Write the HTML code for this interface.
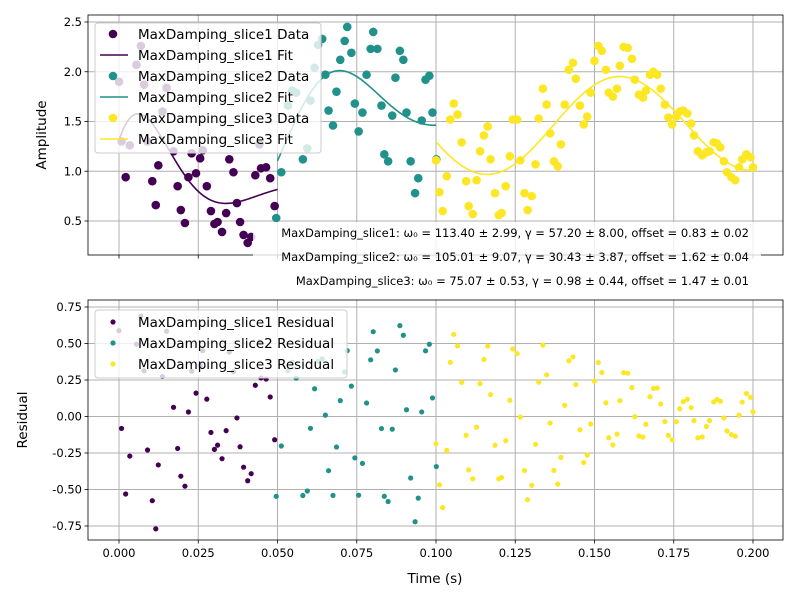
<!DOCTYPE html>
<html><head><meta charset="utf-8"><style>
body{margin:0;background:#fff;}
svg{display:block;font-family:"DejaVu Sans","Liberation Sans",sans-serif;}
</style></head><body>
<svg id="chart" width="800" height="600" xmlns="http://www.w3.org/2000/svg"></svg>
<script>
const slice1T=[0.0000,0.0008,0.0021,0.0034,0.0055,0.0069,0.0079,0.0090,0.0105,0.0116,0.0124,0.0137,0.0150,0.0172,0.0185,0.0195,0.0208,0.0219,0.0229,0.0243,0.0256,0.0264,0.0277,0.0290,0.0301,0.0311,0.0325,0.0338,0.0348,0.0361,0.0372,0.0382,0.0393,0.0406,0.0417,0.0430,0.0443,0.0448,0.0464,0.0477,0.0491];
const slice1V=[1.90,1.30,0.94,1.26,2.07,2.26,1.87,1.30,0.90,0.66,1.06,1.60,1.84,1.20,0.85,0.61,0.48,0.94,1.18,0.98,1.13,1.21,0.85,0.60,0.47,0.49,0.39,0.58,1.12,0.99,0.68,0.49,0.36,0.28,0.34,0.96,1.27,1.03,1.04,0.93,0.65];
const slice2T=[0.0496,0.0512,0.0533,0.0546,0.0559,0.0580,0.0594,0.0604,0.0617,0.0628,0.0641,0.0651,0.0661,0.0675,0.0686,0.0698,0.0712,0.0720,0.0733,0.0744,0.0756,0.0768,0.0781,0.0794,0.0802,0.0815,0.0828,0.0837,0.0849,0.0862,0.0872,0.0886,0.0897,0.0907,0.0920,0.0934,0.0944,0.0955,0.0967,0.0979,0.0989,0.1001];
const slice2V=[0.53,0.99,1.66,1.81,1.79,1.12,1.23,1.71,2.04,2.27,2.33,1.97,1.61,1.46,1.80,2.12,2.31,2.45,2.19,1.68,1.40,1.59,1.97,2.23,2.40,2.23,1.66,1.17,1.10,1.56,1.94,2.21,2.12,1.59,1.10,0.78,0.93,1.51,1.92,1.96,1.59,1.12];
const slice3T=[0.1000,0.1011,0.1021,0.1034,0.1045,0.1056,0.1068,0.1081,0.1095,0.1103,0.1116,0.1128,0.1139,0.1151,0.1163,0.1172,0.1186,0.1198,0.1207,0.1220,0.1233,0.1242,0.1256,0.1266,0.1279,0.1289,0.1302,0.1314,0.1324,0.1337,0.1349,0.1360,0.1372,0.1384,0.1394,0.1406,0.1419,0.1432,0.1441,0.1454,0.1466,0.1477,0.1488,0.1500,0.1512,0.1523,0.1536,0.1545,0.1558,0.1571,0.1580,0.1592,0.1605,0.1618,0.1627,0.1640,0.1653,0.1662,0.1675,0.1686,0.1698,0.1709,0.1722,0.1733,0.1745,0.1758,0.1769,0.1780,0.1793,0.1805,0.1814,0.1826,0.1840,0.1853,0.1863,0.1876,0.1886,0.1897,0.1908,0.1918,0.1932,0.1944,0.1956,0.1966,0.1979,0.1992,0.2000];
const slice3V=[1.11,0.79,0.60,0.95,1.52,1.68,1.57,1.29,0.90,0.65,0.57,0.91,1.20,1.36,1.45,1.12,0.78,0.56,0.58,0.85,1.15,1.52,1.52,1.11,0.78,0.61,0.75,1.07,1.53,1.83,1.67,1.38,1.10,1.05,1.27,1.67,2.02,2.09,1.93,1.66,1.47,1.55,1.79,2.11,2.26,2.21,2.02,1.79,1.75,1.83,2.06,2.25,2.24,2.13,1.92,1.77,1.74,1.81,1.97,2.00,1.97,1.83,1.67,1.54,1.47,1.55,1.60,1.61,1.58,1.48,1.36,1.20,1.16,1.19,1.20,1.29,1.28,1.24,1.10,0.99,0.94,0.91,1.04,1.12,1.17,1.14,1.04];
// fit model params per slice: offset + A*exp(-gamma*tau)*cos(omega*tau+phi), tau=t-start
const fitStart=[0.0,0.05,0.1];
const fitEnd=[0.05,0.1,0.2];
const fitOmega=[113.40,105.01,75.07];
const fitGamma=[57.20,30.43,0.98];
const fitOffset=[0.83,1.62,1.47];
const fitAmp=[1.18,0.74,0.51];
const fitPhase=[-1.15,-2.34,1.918];
const sliceNames=["MaxDamping_slice1","MaxDamping_slice2","MaxDamping_slice3"];
const colors=["#440154","#21918c","#fde725"];
const xTicks=[0,0.025,0.05,0.075,0.1,0.125,0.15,0.175,0.2];
const xTickLabels=["0.000","0.025","0.050","0.075","0.100","0.125","0.150","0.175","0.200"];
const topYTicks=[0.5,1.0,1.5,2.0,2.5];
const botYTicks=[-0.75,-0.5,-0.25,0,0.25,0.5,0.75];
const annotations=["MaxDamping_slice1: ω₀ = 113.40 ± 2.99, γ = 57.20 ± 8.00, offset = 0.83 ± 0.02","MaxDamping_slice2: ω₀ = 105.01 ± 9.07, γ = 30.43 ± 3.87, offset = 1.62 ± 0.04","MaxDamping_slice3: ω₀ = 75.07 ± 0.53, γ = 0.98 ± 0.44, offset = 1.47 ± 0.01"];

const NS="http://www.w3.org/2000/svg";
const svg=document.getElementById('chart');
function mk(tag,attrs,parent){const e=document.createElementNS(NS,tag);for(const k in attrs)e.setAttribute(k,attrs[k]);(parent||svg).appendChild(e);return e;}
const L=88,R=783;
const xs=t=>119+t*3170;
const topT=15,topB=255,botT=300,botB=540;
const ysTop=v=>221-(v-0.5)*99.5;
const ysBot=v=>307+(0.75-v)*146;
function fitVal(i,t){const tau=t-fitStart[i];return fitOffset[i]+fitAmp[i]*Math.exp(-fitGamma[i]*tau)*Math.cos(fitOmega[i]*tau+fitPhase[i]);}
const Ts=[slice1T,slice2T,slice3T],Vs=[slice1V,slice2V,slice3V];

function axes(top,bot,yTicks,ys,fmt,showX,name){
  const g=mk('g',{});
  
  
  xTicks.forEach((t,k)=>{
    const gl=mk('line',{x1:xs(t),x2:xs(t),y1:top,y2:bot,stroke:'#b0b0b0','stroke-width':1},g);
    
    const tk=mk('line',{x1:xs(t),x2:xs(t),y1:bot,y2:bot+3.5,stroke:'#000','stroke-width':0.8},g);
    
    if(showX){const tx=mk('text',{x:xs(t),y:bot+17,'font-size':'11.5','text-anchor':'middle'},g);tx.textContent=xTickLabels[k];
      }
  });
  yTicks.forEach(v=>{
    const gl=mk('line',{x1:L,x2:R,y1:ys(v),y2:ys(v),stroke:'#b0b0b0','stroke-width':1},g);
    
    const tk=mk('line',{x1:L-3.5,x2:L,y1:ys(v),y2:ys(v),stroke:'#000','stroke-width':0.8},g);
    
    const tx=mk('text',{x:L-6,y:ys(v)+4,'font-size':'11.5','text-anchor':'end'},g);tx.textContent=fmt(v);
    
  });
  return g;
}
axes(topT,topB,topYTicks,ysTop,v=>v.toFixed(1),false,'top-axes');
axes(botT,botB,botYTicks,ysBot,v=>v.toFixed(2),true,'bottom-axes');

// clip paths
const defs=mk('defs',{});
const c1=mk('clipPath',{id:'ctop'},defs);mk('rect',{x:L,y:topT,width:R-L,height:topB-topT},c1);
const c2=mk('clipPath',{id:'cbot'},defs);mk('rect',{x:L,y:botT,width:R-L,height:botB-botT},c2);
const gTop=mk('g',{'clip-path':'url(#ctop)'});
const gBot=mk('g',{'clip-path':'url(#cbot)'});

for(let i=0;i<3;i++){
  Ts[i].forEach((t,k)=>{
    const c=mk('circle',{cx:xs(t),cy:ysTop(Vs[i][k]),r:4.3,fill:colors[i]},gTop);
    
    
  });
  let d='';
  for(let s=0;s<=200;s++){const t=fitStart[i]+(fitEnd[i]-fitStart[i])*s/200;d+=(s?'L':'M')+xs(t).toFixed(2)+','+ysTop(fitVal(i,t)).toFixed(2);}
  const p=mk('path',{d:d,fill:'none',stroke:colors[i],'stroke-width':1.6},gTop);
  
  
  Ts[i].forEach((t,k)=>{
    const c=mk('circle',{cx:xs(t),cy:ysBot(Vs[i][k]-fitVal(i,t)),r:2.6,fill:colors[i]},gBot);
    
    
  });
}
// frames
[[topT,topB],[botT,botB]].forEach(([a,b])=>{
  const r=mk('rect',{x:L,y:a,width:R-L,height:b-a,fill:'none',stroke:'#000','stroke-width':0.8});
  
});

// top legend
const lg=mk('g',{});

mk('rect',{x:95,y:23,width:226,height:130,rx:3,fill:'#fff','fill-opacity':0.8,stroke:'#ccc'},lg);
for(let i=0;i<3;i++){
  const y1=34+i*42,y2=55+i*42;
  const m=mk('circle',{cx:113,cy:y1,r:4.3,fill:colors[i]},lg);
  
  const t1=mk('text',{x:138,y:y1+5,'font-size':'13.5'},lg);t1.textContent=sliceNames[i]+' Data';
  
  const l=mk('line',{x1:100,x2:128,y1:y2,y2:y2,stroke:colors[i],'stroke-width':1.6},lg);
  
  const t2=mk('text',{x:138,y:y2+5,'font-size':'13.5'},lg);t2.textContent=sliceNames[i]+' Fit';
  
}
// bottom legend
const lb=mk('g',{});

mk('rect',{x:95,y:310,width:252,height:68,rx:3,fill:'#fff','fill-opacity':0.8,stroke:'#ccc'},lb);
for(let i=0;i<3;i++){
  const y=322+i*21;
  const m=mk('circle',{cx:113,cy:y,r:2.6,fill:colors[i]},lb);
  
  const t=mk('text',{x:138,y:y+5,'font-size':'13.5'},lb);t.textContent=sliceNames[i]+' Residual';
  
}
// annotation box
const ab=mk('g',{});

mk('rect',{x:253,y:222,width:508,height:70,fill:'#fff','fill-opacity':0.8},ab);
annotations.forEach((s,k)=>{
  const t=mk('text',{x:749,y:237+k*24,'font-size':'11.5','text-anchor':'end'},ab);t.textContent=s;
  
});
// axis titles
const yt1=mk('text',{x:0,y:0,'font-size':'13.5','text-anchor':'middle',transform:'translate(46,135) rotate(-90)'});yt1.textContent='Amplitude';

const yt2=mk('text',{x:0,y:0,'font-size':'13.5','text-anchor':'middle',transform:'translate(27,420) rotate(-90)'});yt2.textContent='Residual';

const xt=mk('text',{x:435,y:583,'font-size':'13.5','text-anchor':'middle'});xt.textContent='Time (s)';

</script>
</body></html>
